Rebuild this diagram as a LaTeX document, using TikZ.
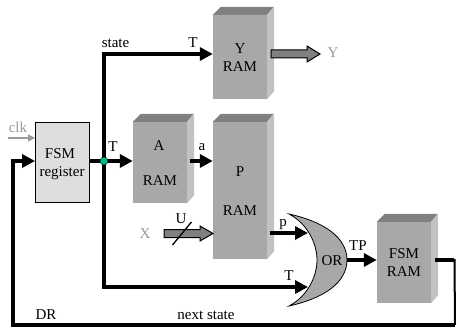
\documentclass[tikz,border=0pt]{standalone}
\usepackage{fontspec}
\setmainfont{Liberation Serif}
\usetikzlibrary{calc}
\usetikzlibrary{arrows.meta}
\definecolor{ramfront}{rgb}{0.66,0.66,0.66}
\definecolor{ramtop}{rgb}{0.5,0.5,0.5}
\definecolor{ramside}{rgb}{0.76,0.76,0.76}
\definecolor{regfill}{rgb}{0.87,0.87,0.87}
\definecolor{busfill}{rgb}{0.5,0.5,0.5}
\definecolor{graytext}{rgb}{0.6,0.6,0.6}
\definecolor{dotfill}{rgb}{0.,0.75,0.55}
\tikzset{
  every node/.style={font=\fontsize{15}{17}\selectfont,inner sep=0pt},
  bus/.style={line width=4pt,->},
  plainbus/.style={line width=4pt},
  ramnode/.style={fill=ramfront,minimum width=54pt},
  fatarrow/.style={draw=black,fill=busfill,line width=1pt},
}
% block with a shaded top and side
\newcommand{\ramblock}[4]{%
  \node[ramnode,minimum height=#4] (#1) at (#2,#3) {};
  \fill[ramtop] (#1.north west) -- ++(8,-8) -- ++(53,0) -- (#1.north east) -- cycle;
  \fill[ramside] (#1.north east) -- ++(7,-8) -- ($(#1.south east)+(7,-8)$) -- (#1.south east) -- cycle;
}
\begin{document}
\begin{tikzpicture}[line cap=butt,line join=miter,>={Triangle[length=13pt,width=13pt]},x=1pt,y=-1pt]
  \useasboundingbox (0,0) rectangle (456,329);
  \ramblock{yram}{240}{57}{84pt}
  \ramblock{aram}{160}{162.5}{81pt}
  \ramblock{pram}{240}{190.5}{137pt}
  \ramblock{fsmram}{404}{262.5}{81pt}
  \node[draw=black,fill=regfill,line width=1pt,minimum width=53.5pt,minimum height=80.5pt] (fsmreg) at (62.3,162.7) {};
  \coordinate (tjunc) at (104,161);
  \coordinate (statecorner) at (104,54);
  \coordinate (tcorner) at (104,287);
  \coordinate (ort) at (308,287);
  \coordinate (orp) at (308,233);
  \coordinate (ortip) at (289,214);
  \coordinate (orbot) at (289,306);
  \coordinate (orout) at (347,260);
  \coordinate (orin) at (317,260);
  \coordinate (drright) at (455,325);
  \coordinate (drleft) at (13,325);
  % OR gate
  \draw[fill=ramfront,line width=0.8pt] (ortip) .. controls (325,222) and (347,238) .. (orout)
    .. controls (347,282) and (325,298) .. (orbot)
    .. controls (308,296) and (317,276) .. (orin)
    .. controls (317,244) and (308,224) .. (ortip) -- cycle;
  % wires
  \draw[plainbus] (fsmreg.east |- tjunc) -- (tjunc);
  \draw[bus] (tjunc) -- (aram.west |- tjunc);
  \draw[bus,line join=miter] (tcorner) -- (statecorner) -- (yram.west |- statecorner);
  \draw[bus] ($(tcorner)+(-2,0)$) -- (ort);
  \draw[bus] (190,161) -- (pram.west |- tjunc);
  \draw[bus] (270,233) -- (orp);
  \draw[bus] (orout) -- (fsmram.west |- orout);
  \draw[plainbus] (435,260) -- (453.5,260);
  \draw[line width=2pt] (454.5,259) -- (drright);
  \draw[bus] (drright) -- (drleft) -- (13,161) -- (fsmreg.west |- tjunc);
  \draw[graytext,line width=1.5pt,-{Triangle[length=7pt,width=7pt]}] (8,138) -- (fsmreg.west |- 0,138);
  \node[circle,draw=black,fill=dotfill,line width=0.4pt,minimum size=8pt] (tdot) at (tjunc) {};
  % wide arrows
  \draw[fatarrow] (271,50) -- (307,50) -- (307,46) -- (320,54) -- (307,62) -- (307,58) -- (271,58) -- cycle;
  \draw[fatarrow] (164,229.5) -- (200,229.5) -- (200,226) -- (213,233.5) -- (200,241) -- (200,237.5) -- (164,237.5) -- cycle;
  \draw[line width=1.3pt] (172.5,245) -- (191.5,222);
  % labels
  \node (statelab) at (115.5,43) {state};
  \node (tlaba) at (193,43) {T};
  \node (yone) at (240,49) {Y};
  \node (ytwo) at (240,67) {RAM};
  \node[graytext] (yout) at (333,53) {Y};
  \node[graytext] (clklab) at (18,127) {clk};
  \node (regone) at (60,154) {FSM};
  \node (regtwo) at (62,173) {register};
  \node (tlabb) at (113,147) {T};
  \node (aone) at (159,146) {A};
  \node (atwo) at (160,181) {RAM};
  \node (alab) at (202,147) {a};
  \node (pone) at (240,172) {P};
  \node (ptwo) at (240,211) {RAM};
  \node (ulab) at (181,219) {U};
  \node[graytext] (xlab) at (145,234) {X};
  \node (plab) at (283,225) {p};
  \node (tlabc) at (289,276) {T};
  \node (orlab) at (332,261) {OR};
  \node (tplab) at (358,246) {TP};
  \node (fsmone) at (404,254) {FSM};
  \node (fsmtwo) at (404,272) {RAM};
  \node (drlab) at (46,315) {DR};
  \node (nextlab) at (206,315) {next state};
\end{tikzpicture}
\end{document}
